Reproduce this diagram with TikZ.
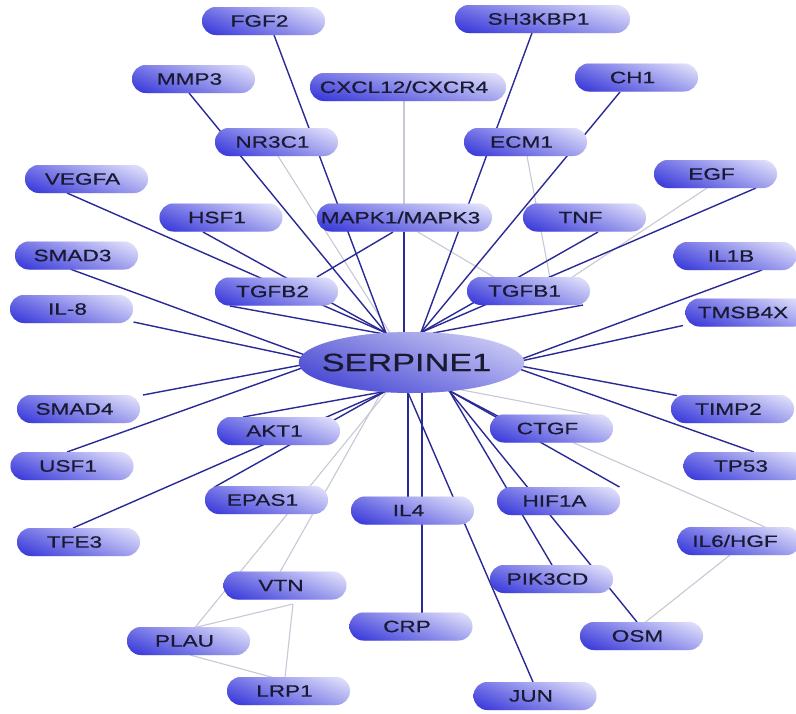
\documentclass[tikz,border=0pt]{standalone}
\usepackage{fontspec}
\newfontfamily\genefont[FakeStretch=1.37,FakeBold=0.5]{Liberation Sans}
\usetikzlibrary{calc,backgrounds,shapes.geometric}
\definecolor{pillL}{RGB}{42,42,218}
\definecolor{pillM}{RGB}{140,140,240}
\definecolor{pillR}{RGB}{222,222,252}
\definecolor{hubL}{RGB}{50,50,205}
\definecolor{hubM}{RGB}{115,115,228}
\definecolor{hubR}{RGB}{200,200,246}
\definecolor{rimc}{RGB}{60,60,215}
\definecolor{txtc}{RGB}{25,25,50}
\definecolor{dkline}{RGB}{42,42,150}
\definecolor{ltline}{RGB}{200,200,215}
\newcommand\lnk[5]{\draw[#1] ($(#2)+#3$) -- ($(#4)+#5$);}
\tikzset{
  gloss/.style={path picture={\shade[top color=white, bottom color=rimc, opacity=0.35]
      (path picture bounding box.south west) rectangle (path picture bounding box.north east);}},
  pill/.style={rectangle, rounded corners=13.9pt, minimum width=123pt, minimum height=28pt,
    inner sep=0pt, left color=pillL, middle color=pillM, right color=pillR, gloss,
    text=txtc, font=\genefont\fontsize{16.5}{18}\selectfont,
    execute at begin node=\kern-8pt},
  hub/.style={ellipse, minimum width=197pt, minimum height=61pt, inner sep=0pt,
    left color=hubL, middle color=hubM, right color=hubR, gloss,
    text=txtc, font=\genefont\fontsize{25}{28}\selectfont,
    execute at begin node=\kern-10pt},
  dk/.style={draw=dkline, line width=1.4pt},
  lt/.style={draw=ltline, line width=1.1pt}
}
\begin{document}
\begin{tikzpicture}[x=1pt,y=-1pt]
\useasboundingbox (0,0) rectangle (796,713);
\node[pill] (FGF2) at (263.5,21) {FGF2};
\node[pill, minimum width=175pt] (SH3KBP1) at (542.5,19) {SH3KBP1};
\node[pill] (MMP3) at (193.5,79) {MMP3};
\node[pill, minimum width=196pt] (CXCL) at (408,87) {CXCL12/CXCR4};
\node[pill] (CH1) at (636.5,77.5) {CH1};
\node[pill] (NR3C1) at (276.5,142) {NR3C1};
\node[pill] (ECM1) at (525.5,142) {ECM1};
\node[pill] (EGF) at (715.5,174) {EGF};
\node[pill] (VEGFA) at (86.5,179) {VEGFA};
\node[pill] (HSF1) at (221,217.5) {HSF1};
\node[pill, minimum width=175pt] (MAPK) at (404.5,217.5) {MAPK1/MAPK3};
\node[pill] (TNF) at (584.5,217.5) {TNF};
\node[pill] (SMAD3) at (76.5,255.5) {SMAD3};
\node[pill] (IL1B) at (735,256) {IL1B};
\node[pill] (TGFB2) at (276.5,291.5) {TGFB2};
\node[pill] (TGFB1) at (528.5,291) {TGFB1};
\node[pill] (IL8) at (71.5,309) {IL-8};
\node[pill] (TMSB4X) at (747,312.5) {TMSB4X};
\node[pill] (SMAD4) at (78.5,409) {SMAD4};
\node[pill] (AKT1) at (278.5,431) {AKT1};
\node[pill] (CTGF) at (551.5,428.5) {CTGF};
\node[pill] (TIMP2) at (732.5,409) {TIMP2};
\node[pill] (USF1) at (72,466) {USF1};
\node[pill] (TP53) at (745,466) {TP53};
\node[pill] (EPAS1) at (266.5,500) {EPAS1};
\node[pill] (HIF1A) at (558.5,501) {HIF1A};
\node[pill] (IL4) at (412.5,510.5) {IL4};
\node[pill] (TFE3) at (78.5,542) {TFE3};
\node[pill] (IL6) at (739,541) {IL6/HGF};
\node[pill] (VTN) at (285,585.5) {VTN};
\node[pill] (PIK3CD) at (551.5,579) {PIK3CD};
\node[pill] (CRP) at (411,626.5) {CRP};
\node[pill] (PLAU) at (188.5,641) {PLAU};
\node[pill] (OSM) at (641.5,636) {OSM};
\node[pill] (LRP1) at (288.5,691) {LRP1};
\node[pill] (JUN) at (535,696) {JUN};
\node[hub] (S) at (411.5,362.5) {SERPINE1};
\begin{pgfonlayer}{background}
\fill[white] (0,0) rectangle (796,713);
% light secondary links
\lnk{lt}{CXCL}{(-4,14)}{S}{(-7.5,-30)}
\lnk{lt}{NR3C1}{(1.5,14)}{S}{(-21.5,-29.5)}
\lnk{lt}{MAPK}{(13.5,14.5)}{TGFB1}{(-31.5,-12)}
\lnk{lt}{ECM1}{(1.5,14)}{TGFB1}{(21.5,-13)}
\lnk{lt}{EGF}{(-8.5,14)}{TGFB1}{(42.5,-13)}
\lnk{lt}{S}{(45.5,26.5)}{CTGF}{(38.5,-14)}
\lnk{lt}{CTGF}{(21.5,14)}{IL6}{(26,-14)}
\lnk{lt}{IL6}{(-9,14)}{OSM}{(3.5,-13.5)}
\lnk{lt}{S}{(-24.5,29)}{PLAU}{(6.5,-13.5)}
\lnk{lt}{S}{(-29.5,28.8)}{VTN}{(-5,-13.5)}
\lnk{lt}{PLAU}{(8.5,-14)}{VTN}{(8,18.5)}
\lnk{lt}{VTN}{(8,18.5)}{LRP1}{(-3.5,-13.5)}
\lnk{lt}{PLAU}{(1.5,14)}{LRP1}{(-15.5,-13.5)}
% dark links to SERPINE1
\lnk{dk}{FGF2}{(10.5,14)}{S}{(-25.5,-29.5)}
\lnk{dk}{MMP3}{(-4.5,14)}{S}{(-25.5,-29.5)}
\lnk{dk}{VEGFA}{(-19.5,14)}{S}{(-25.5,-29.5)}
\lnk{dk}{HSF1}{(-18,14.5)}{S}{(-25.5,-29.5)}
\lnk{dk}{TGFB2}{(-46.5,14.5)}{S}{(-30,-29)}
\lnk{dk}{MAPK}{(-11.5,14.5)}{TGFB2}{(40.5,-14.5)}
\lnk{dk}{MAPK}{(-0.5,14.5)}{S}{(-7.5,-30)}
\lnk{dk}{SH3KBP1}{(-10.5,14)}{S}{(9.5,-30)}
\lnk{dk}{CH1}{(-16.5,14.5)}{S}{(9.5,-30)}
\lnk{dk}{TNF}{(13.5,14.5)}{S}{(9.5,-30)}
\lnk{dk}{EGF}{(40.5,14)}{S}{(9.5,-30)}
\lnk{dk}{TGFB1}{(54.5,14)}{S}{(21.5,-29.5)}
\lnk{dk}{SMAD3}{(-6.5,13.5)}{S}{(-97,-4)}
\lnk{dk}{IL8}{(62,13)}{S}{(-97,-2)}
\lnk{dk}{SMAD4}{(64.5,-14)}{S}{(-97,0)}
\lnk{dk}{USF1}{(-5,-14)}{S}{(-97,1)}
\lnk{dk}{IL1B}{(27,14)}{S}{(98,1)}
\lnk{dk}{TMSB4X}{(-64,13)}{S}{(98,1)}
\lnk{dk}{TIMP2}{(-55.5,-13.5)}{S}{(98,1.5)}
\lnk{dk}{TP53}{(9,-14)}{S}{(98,3)}
\lnk{dk}{AKT1}{(-35.5,-14)}{S}{(-26.5,29)}
\lnk{dk}{EPAS1}{(-52,-13)}{S}{(-26.5,29)}
\lnk{dk}{TFE3}{(-5.5,-14)}{S}{(-26.5,29)}
\lnk{dk}{IL4}{(-4.5,-13.5)}{S}{(-3.5,30)}
\lnk{dk}{CRP}{(11,-13.5)}{S}{(10.5,30)}
\lnk{dk}{JUN}{(-2,-14)}{S}{(-3.5,30)}
\lnk{dk}{CTGF}{(-53,-12)}{S}{(37.5,28)}
\lnk{dk}{HIF1A}{(61,-14)}{S}{(37.5,28)}
\lnk{dk}{PIK3CD}{(0.5,-14)}{S}{(37.5,28)}
\lnk{dk}{OSM}{(-4.5,-14)}{S}{(37.5,28)}
\end{pgfonlayer}
\end{tikzpicture}
\end{document}
